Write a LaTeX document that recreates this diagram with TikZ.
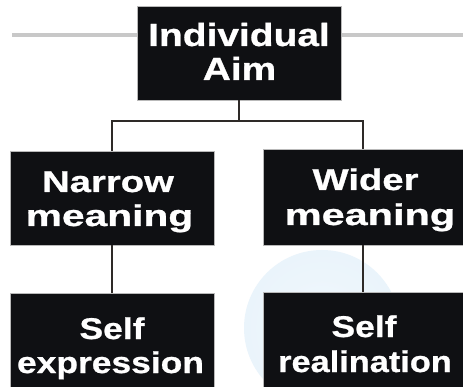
\documentclass[tikz,border=0pt]{standalone}
\usepackage{fontspec}
\setmainfont{Liberation Sans}[FakeStretch=1.18, BoldFeatures={FakeBold=0.8}]
\begin{document}
\begin{tikzpicture}[x=1pt,y=-1pt,
  box/.style={fill=boxblack, draw=gray!55, line width=0.8pt, inner sep=0pt},
  txt/.style={anchor=base, inner sep=0pt, text=white, font=\fontsize{30}{34}\selectfont\bfseries},
  bigtxt/.style={txt, font=\fontsize{32}{36}\selectfont\bfseries},
  conn/.style={draw=linegray, line width=1.6pt},
  rule/.style={draw=rulegray, line width=4pt}]
\definecolor{boxblack}{HTML}{0F1013}
\definecolor{linegray}{HTML}{2E2A28}
\definecolor{rulegray}{HTML}{C8C8C8}
\definecolor{wmblue}{HTML}{EAF4FB}
\clip (0,0) rectangle (463,387);
\fill[white] (0,0) rectangle (463,387);
% faint watermark
\shade[inner color=wmblue!70, outer color=wmblue] (322,328) circle[radius=78pt];
\coordinate (ruleL) at (12,35);
\coordinate (ruleR) at (463,35);
\draw[rule] (ruleL) -- (ruleR);
% boxes
\node[box, minimum width=204pt, minimum height=94pt] (top) at (239,53) {};
\node[box, minimum width=204pt, minimum height=94pt] (left) at (112,198) {};
\node[box, minimum width=200pt, minimum height=96pt] (right) at (363,197) {};
\node[box, minimum width=204pt, minimum height=104pt] (leftb) at (112,345) {};
\node[box, minimum width=200pt, minimum height=105pt] (rightb) at (363,344.5) {};
% texts
\node[bigtxt] (t1) at (239,46) {\scalebox{1.03}[1]{Individual}};
\node[bigtxt] (t2) at (239.5,80) {\scalebox{1.03}[1]{Aim}};
\node[txt] (l1) at (108,192) {\scalebox{1.08}[1]{Narrow}};
\node[txt] (l2) at (109.5,226) {\scalebox{1.15}[1]{meaning}};
\node[txt] (r1) at (365.5,190) {\scalebox{1.08}[1]{Wider}};
\node[txt] (r2) at (370,225) {\scalebox{1.17}[1]{meaning}};
\node[txt] (lb1) at (112,339) {Self};
\node[txt] (lb2) at (110.5,373) {expression};
\node[txt] (rb1) at (364,337) {Self};
\node[txt] (rb2) at (365,372) {\scalebox{0.97}[1]{realination}};
% connectors
\coordinate (bar) at (239,121);
\draw[conn] (top.south) -- (bar);
\draw[conn] (left.north) |- (bar) -| (right.north);
\draw[conn] (left.south) -- (leftb.north);
\draw[conn] (right.south) -- (rightb.north);
\end{tikzpicture}
\end{document}
